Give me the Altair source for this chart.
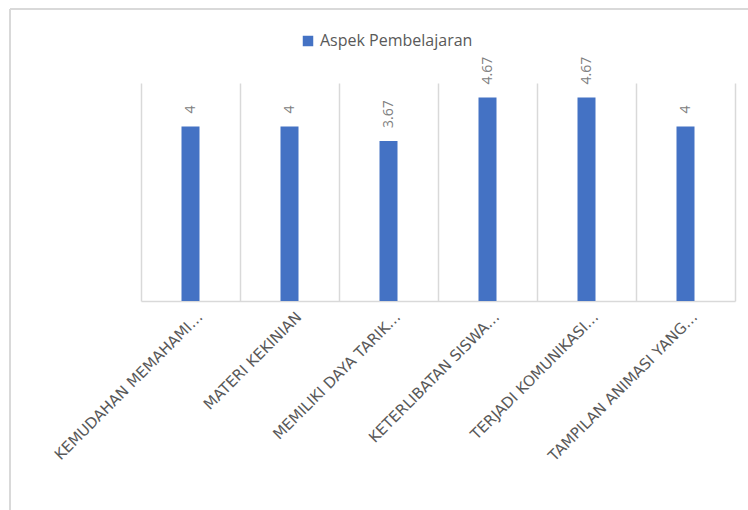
import altair as alt
import pandas as pd

categories = ["KEMUDAHAN MEMAHAMI…", "MATERI KEKINIAN", "MEMILIKI DAYA TARIK…",
              "KETERLIBATAN SISWA…", "TERJADI KOMUNIKASI…", "TAMPILAN ANIMASI YANG…"]
values = [4, 4, 3.67, 4.67, 4.67, 4]
series_name = "Aspek Pembelajaran"

df = pd.DataFrame({"cat": categories, "val": values, "series": [series_name] * len(values)})
df["label"] = [f"{v:g}" for v in values]

W, H = 594, 218
GRID = "#d9d9d9"
TXT = "#595959"

x_enc = alt.X("cat:N", sort=categories, title=None,
              scale=alt.Scale(paddingInner=0, paddingOuter=0),
              axis=alt.Axis(labelAngle=-45, labelFont="DejaVu Sans", labelFontSize=15,
                            labelColor=TXT, labelPadding=8, labelOffset=4, ticks=False,
                            domainColor=GRID, domainWidth=1.5, grid=True, gridColor=GRID,
                            gridWidth=1.5, tickBand="extent", labelLimit=400))
y_enc = alt.Y("val:Q", scale=alt.Scale(domain=[0, 5]), axis=None)

bars = alt.Chart(df).mark_bar(size=18).encode(
    x=x_enc, y=y_enc,
    color=alt.Color("series:N", scale=alt.Scale(range=["#4472C4"]),
                    legend=alt.Legend(title=None, orient="none", legendX=159, legendY=-50,
                                      symbolType="square", symbolSize=110,
                                      labelFont="Open Sans", labelFontSize=16,
                                      labelColor=TXT, symbolStrokeWidth=0)),
)

texts = alt.Chart(df).mark_text(angle=270, align="left", baseline="middle", dx=13,
                                font="Open Sans", fontSize=14, color="#808080").encode(
    x=x_enc, y=y_enc, text="label:N")

one = pd.DataFrame({"k": [0]})
border_top = alt.Chart(one).mark_rule(color=GRID, strokeWidth=2).encode(
    x=alt.value(-131), x2=alt.value(W + 20), y=alt.value(-74))
border_left = alt.Chart(one).mark_rule(color=GRID, strokeWidth=2).encode(
    x=alt.value(-131), y=alt.value(-74), y2=alt.value(H + 220))

chart = alt.layer(bars, texts, border_top, border_left).properties(
    width=W, height=H,
    autosize=alt.AutoSizeParams(type="none"),
    padding={"left": 141, "top": 83, "right": 13, "bottom": 209},
).configure_view(stroke=None)

chart.save("out.html", embed_options={"renderer": "svg", "actions": False})
